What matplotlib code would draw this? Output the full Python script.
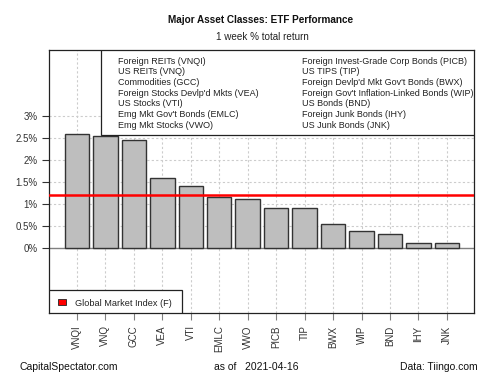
import matplotlib
matplotlib.use("Agg")
import matplotlib.pyplot as plt
from matplotlib.patches import Rectangle

plt.rcParams["font.family"] = ["Liberation Sans", "DejaVu Sans"]

# data
tickers = ["VNQI", "VNQ", "GCC", "VEA", "VTI", "EMLC", "VWO",
           "PICB", "TIP", "BWX", "WIP", "BND", "IHY", "JNK"]
returns = [2.60, 2.55, 2.45, 1.60, 1.41, 1.16, 1.11,
           0.90, 0.90, 0.545, 0.386, 0.32, 0.105, 0.105]
global_index = 1.21
legend_left = ["Foreign REITs (VNQI)", "US REITs (VNQ)", "Commodities (GCC)",
               "Foreign Stocks Devlp'd Mkts (VEA)", "US Stocks (VTI)",
               "Emg Mkt Gov't Bonds (EMLC)", "Emg Mkt Stocks (VWO)"]
legend_right = ["Foreign Invest-Grade Corp Bonds (PICB)", "US TIPS (TIP)",
                "Foreign Devlp'd Mkt Gov't Bonds (BWX)",
                "Foreign Gov't Inflation-Linked Bonds (WIP)", "US Bonds (BND)",
                "Foreign Junk Bonds (IHY)", "US Junk Bonds (JNK)"]
yticks = [0, 0.5, 1, 1.5, 2, 2.5, 3]
ytick_labels = ["0%", "0.5%", "1%", "1.5%", "2%", "2.5%", "3%"]

W, H = 500, 375
fig = plt.figure(figsize=(5, 3.75), dpi=100)


def px(x, y):
    return x / W, 1 - y / H


ax = fig.add_axes([49 / W, 1 - 313 / H, (474 - 49) / W, (313 - 50) / H])
pos = list(range(len(tickers)))

# grid
for p in pos:
    ax.axvline(p, color="#cccccc", lw=0.8, ls=(0, (2, 2)), zorder=0)
for t in yticks[1:]:
    ax.axhline(t, color="#cccccc", lw=0.8, ls=(0, (2, 2)), zorder=0)
ax.axhline(0, color="#808080", lw=1.0, zorder=1)

ax.bar(pos, returns, width=0.86, color="#bebebe", edgecolor="#333333",
       linewidth=1.0, zorder=2)
ax.axhline(global_index, color="#ff0000", lw=1.8, zorder=4)

ax.set_xlim(-0.98, 13.95)
ax.set_ylim(-1.48, 4.5)
ax.set_yticks(yticks)
ax.set_yticklabels(ytick_labels)
ax.set_xticks(pos)
ax.set_xticklabels(tickers, rotation=90)
ax.tick_params(axis="both", labelsize=7, colors="#333333", length=5,
               width=0.8)
ax.tick_params(axis="x", color="#808080", pad=4)
ax.tick_params(axis="y", color="#333333", pad=3)
for s in ax.spines.values():
    s.set_color("#222222")
    s.set_linewidth(0.9)

# legend box at top
ax.add_patch(Rectangle(((101 - 49) / 425, (313 - 135) / 263),
                       1 - (101 - 49) / 425, 1 - (313 - 135) / 263,
                       transform=ax.transAxes, facecolor="white",
                       edgecolor="#222222", lw=0.9, zorder=5))
for i, (a, b) in enumerate(zip(legend_left, legend_right)):
    y = 61 + i * 10.75
    fig.text(*px(118, y), a, fontsize=6.45, color="#222222", va="center")
    fig.text(*px(302, y), b, fontsize=6.45, color="#222222", va="center")

# bottom legend
ax.add_patch(Rectangle((0, 0), (182 - 49) / 425, (313 - 290) / 263,
                       transform=ax.transAxes, facecolor="white",
                       edgecolor="#222222", lw=0.9, zorder=5))
fig.patches.append(Rectangle(px(58, 304.5), 7.5 / W, 6 / H,
                             transform=fig.transFigure, facecolor="#ff0000",
                             edgecolor="#222222", lw=0.6, zorder=6))
fig.text(*px(75, 303), "Global Market Index (F)", fontsize=6.6,
         color="#222222", va="center")

# titles
fig.text(*px(261, 20), "Major Asset Classes: ETF Performance", fontsize=7.2,
         fontweight="bold", ha="center", va="center", color="#111111")
fig.text(*px(262, 37), "1 week % total return", fontsize=7.1,
         ha="center", va="center", color="#222222")

# footer
fig.text(*px(20, 367), "CapitalSpectator.com", fontsize=7.5, va="center",
         color="#111111")
fig.text(*px(256.5, 367), "as of   2021-04-16", fontsize=7.5, ha="center",
         va="center", color="#111111")
fig.text(*px(478, 367), "Data: Tiingo.com", fontsize=7.5, ha="right",
         va="center", color="#111111")

fig.savefig("out.png", dpi=100, facecolor="white")
